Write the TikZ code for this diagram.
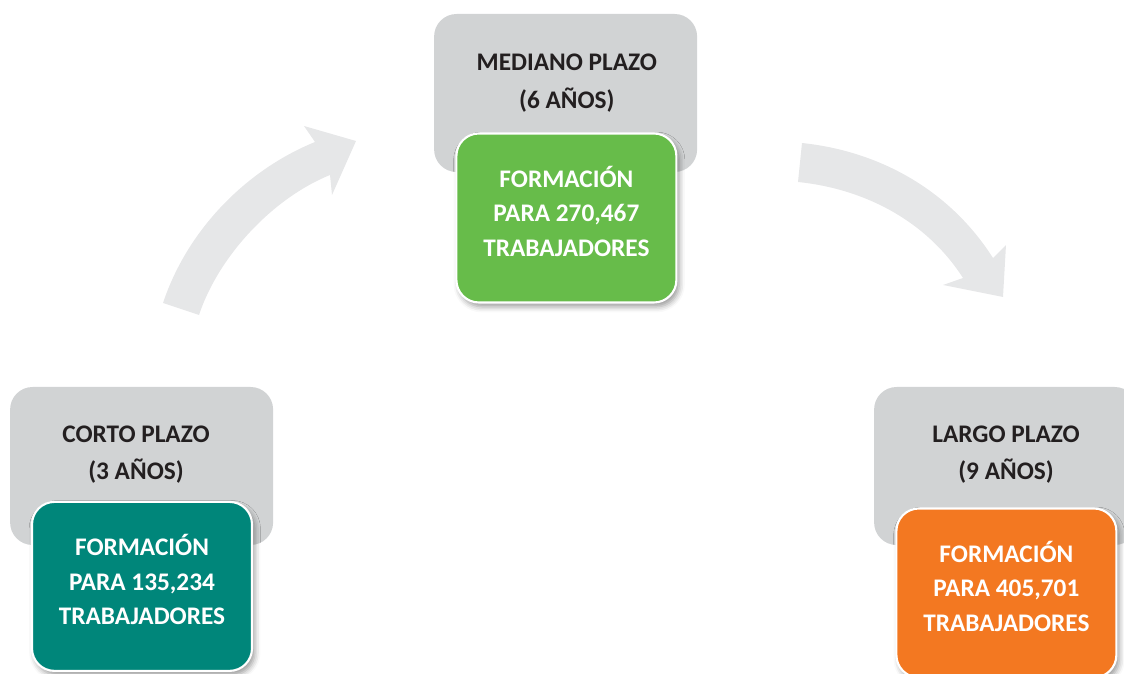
\documentclass[tikz,border=0pt]{standalone}
\usepackage{fontspec}
\setmainfont{Carlito}
\usepackage{tikz}
\usetikzlibrary{positioning,shadows.blur}
\definecolor{grisCaja}{RGB}{209,211,212}
\definecolor{grisFlecha}{RGB}{230,231,232}
\definecolor{textoOscuro}{RGB}{35,31,32}
\definecolor{verdeAzul}{RGB}{0,134,122}
\definecolor{verdeClaro}{RGB}{103,188,74}
\definecolor{naranja}{RGB}{243,120,33}

\begin{document}
\begin{tikzpicture}[
  plazo/.style={rectangle,rounded corners=16pt,minimum width=6.575cm,minimum height=3.95cm,
                fill=grisCaja},
  plazotxt/.style={align=center,text=textoOscuro,font=\fontsize{18}{26.5}\selectfont\bfseries},
  meta/.style={rectangle,rounded corners=16pt,minimum width=5.5cm,minimum height=4.225cm,
               draw=white,line width=1.5pt,text=white,align=center,text depth=0.35cm,
               font=\fontsize{18}{24.5}\selectfont\bfseries,
               blur shadow={shadow xshift=2pt,shadow yshift=-3pt,shadow blur radius=4pt}},
  flecha/.style={fill=grisFlecha}]

  \useasboundingbox (0,0) rectangle (28.1,16.85);

  % Curved arrows
  \fill[flecha] (4.075,9.275) .. controls (4.7,11.15) and (6.2,12.62) .. (7.875,13.3)
    -- (7.6,13.7) -- (8.9,13.325) -- (8.3,11.975) -- (8.25,12.475)
    .. controls (6.81,11.89) and (5.465,10.445) .. (4.975,8.975) -- cycle;
  \fill[flecha] (20.05,13.275) .. controls (22.0,13.07) and (23.75,12.09) .. (24.825,10.4)
    -- (25.15,10.725) -- (25.075,9.425) -- (23.575,9.725) -- (24.075,9.9)
    .. controls (23.16,11.33) and (21.61,12.13) .. (19.95,12.3) -- cycle;

  \node[plazo] (CP) at (3.54,5.2) {};
  \node[plazo] (MP) at (14.14,14.525) {};
  \node[plazo] (LP) at (25.14,5.2) {};

  \node[plazotxt] (CPt) at (3.4,5.49) {CORTO PLAZO\\(3 AÑOS)};
  \node[plazotxt] (MPt) at (14.17,14.77) {MEDIANO PLAZO\\(6 AÑOS)};
  \node[plazotxt] (LPt) at (25.15,5.49) {LARGO PLAZO\\(9 AÑOS)};

  \node[meta,fill=verdeAzul] (CPf) at (3.55,2.19)
    {FORMACIÓN\\PARA 135,234\\TRABAJADORES};
  \node[meta,fill=verdeClaro] (MPf) at (14.16,11.4)
    {FORMACIÓN\\PARA 270,467\\TRABAJADORES};
  \node[meta,fill=naranja] (LPf) at (25.16,2.025)
    {FORMACIÓN\\PARA 405,701\\TRABAJADORES};
\end{tikzpicture}
\end{document}
